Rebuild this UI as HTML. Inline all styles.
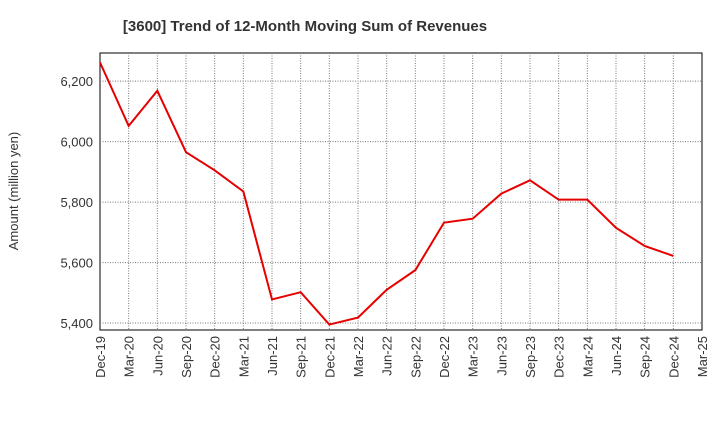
<!DOCTYPE html>
<html><head><meta charset="utf-8"><style>
body{margin:0;background:#fff;font-family:"Liberation Sans",sans-serif}
</style></head><body>
<svg id="c" width="720" height="440" xmlns="http://www.w3.org/2000/svg">
<text x="305" y="31" text-anchor="middle" font-size="15" font-weight="bold" fill="#333">[3600]  Trend of 12-Month Moving Sum of Revenues</text>
<text transform="translate(18,191) rotate(-90)" text-anchor="middle" font-size="13" fill="#333">Amount (million yen)</text>
</svg>
<script>
const categories=["Dec-19","Mar-20","Jun-20","Sep-20","Dec-20","Mar-21","Jun-21","Sep-21","Dec-21","Mar-22","Jun-22","Sep-22","Dec-22","Mar-23","Jun-23","Sep-23","Dec-23","Mar-24","Jun-24","Sep-24","Dec-24","Mar-25"];
const revenues=[6262,6052,6168,5965,5905,5835,5478,5502,5395,5418,5510,5575,5732,5745,5828,5872,5808,5808,5715,5655,5622];
const yTicks=[5400,5600,5800,6000,6200];
const yTickLabels=["5,400","5,600","5,800","6,000","6,200"];
const svg=document.getElementById('c');const NS="http://www.w3.org/2000/svg";
const L=100,R=702,T=53,B=330,yMin=5377,yMax=6293;
const x=i=>L+i*(R-L)/(categories.length-1);
const y=v=>B-(v-yMin)/(yMax-yMin)*(B-T);
function mk(t,a){const e=document.createElementNS(NS,t);for(const k in a)e.setAttribute(k,a[k]);svg.appendChild(e);return e;}
const bg=mk('rect',{x:L,y:T,width:R-L,height:B-T,fill:'#fff',stroke:'#000','stroke-width':1});


yTicks.forEach((v,i)=>{
 const g=mk('line',{x1:L,x2:R,y1:y(v),y2:y(v),stroke:'#777','stroke-dasharray':'1,1.5','stroke-width':1});
 
 
 const t=mk('text',{x:L-7,y:y(v)+5,'text-anchor':'end','font-size':13,fill:'#333'});t.textContent=yTickLabels[i];
 
 
});
categories.forEach((c,i)=>{
 if(i>0&&i<categories.length-1){const g=mk('line',{x1:x(i),x2:x(i),y1:T,y2:B,stroke:'#777','stroke-dasharray':'1,1.5','stroke-width':1});
 
 }
 const t=mk('text',{transform:`translate(${x(i)+5},${B+6}) rotate(-90)`,'text-anchor':'end','font-size':13,fill:'#333'});t.textContent=c;
 
 
});
const p=mk('polyline',{points:revenues.map((v,i)=>x(i)+','+y(v)).join(' '),fill:'none',stroke:'#e60000','stroke-width':2});


</script>
</body></html>
